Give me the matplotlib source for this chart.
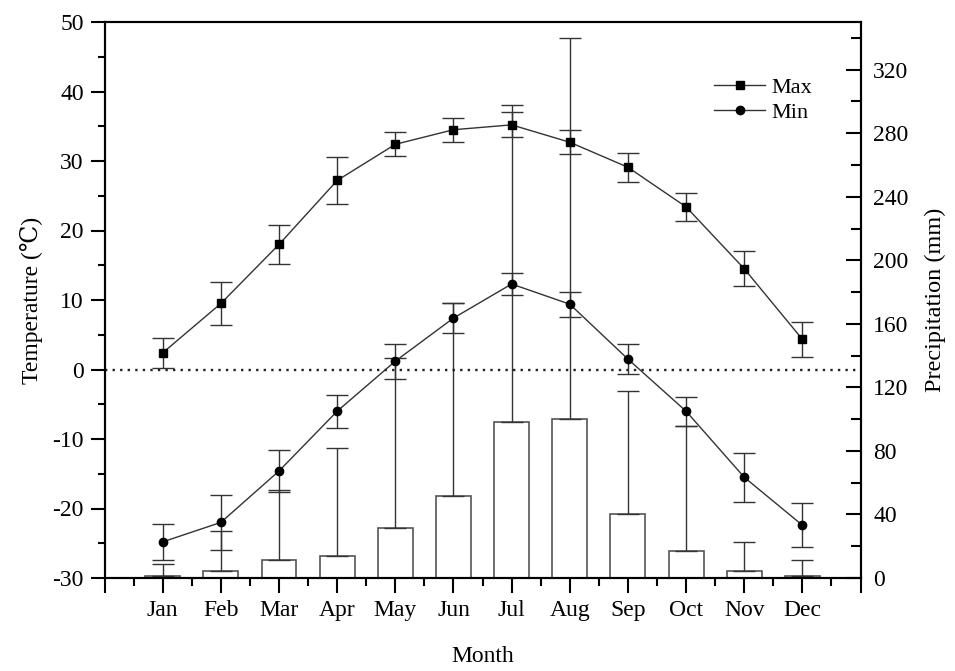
import matplotlib
matplotlib.use('Agg')
import matplotlib.pyplot as plt
import numpy as np
from matplotlib.ticker import MultipleLocator, FixedLocator
from matplotlib.lines import Line2D

months = ['Jan', 'Feb', 'Mar', 'Apr', 'May', 'Jun', 'Jul', 'Aug', 'Sep', 'Oct', 'Nov', 'Dec']
tmax = [2.4, 9.5, 18.0, 27.2, 32.4, 34.5, 35.2, 32.7, 29.1, 23.4, 14.5, 4.35]
tmax_err = [2.2, 3.1, 2.85, 3.35, 1.75, 1.7, 1.8, 1.7, 2.05, 2.05, 2.5, 2.5]
tmin = [-24.8, -22.0, -14.6, -6.0, 1.2, 7.4, 12.3, 9.4, 1.5, -6.0, -15.5, -22.4]
tmin_err = [2.55, 3.9, 3.0, 2.4, 2.5, 2.15, 1.6, 1.8, 2.2, 2.1, 3.55, 3.2]
precip = [1.3, 4.4, 11.1, 13.7, 31.5, 51.6, 98.4, 100.1, 40.1, 17.2, 4.4, 1.4]
precip_err = [7.3, 25.2, 44.3, 68.3, 107.2, 121.5, 199.5, 240.0, 77.6, 78.7, 18.1, 10.1]

plt.rcParams['font.family'] = ['Liberation Serif', 'DejaVu Serif']
plt.rcParams['axes.unicode_minus'] = False

fig = plt.figure(figsize=(9.55, 6.71), dpi=100)
ax1 = fig.add_axes([104.6 / 955, 1 - 578 / 671, (860.5 - 104.6) / 955, 556 / 671])
ax2 = ax1.twinx()

x = np.arange(1, 13)
ax2.bar(x, precip, width=0.6, color='white', edgecolor='#555555', linewidth=1.2, zorder=2)
ax2.errorbar(x, precip, yerr=[np.zeros(12), precip_err], fmt='none', ecolor='#333333',
             elinewidth=1, capsize=8, capthick=1, zorder=3)
ax2.set_ylim(0, 350)

ax1.set_zorder(ax2.get_zorder() + 1)
ax1.patch.set_visible(False)

ax1.axhline(0, ls=(0, (1, 2.2)), color='#222222', lw=1.7, zorder=1)
ax1.errorbar(x, tmax, yerr=tmax_err, fmt='-s', color='#333333', mfc='black', mec='black',
             ms=5.5, lw=1, elinewidth=1, capsize=8, capthick=1, zorder=4)
ax1.errorbar(x, tmin, yerr=tmin_err, fmt='-o', color='#333333', mfc='black', mec='black',
             ms=6, lw=1, elinewidth=1, capsize=8, capthick=1, zorder=4)

ax1.set_xlim(0, 13)
ax1.set_ylim(-30, 50)
ax1.yaxis.set_major_locator(MultipleLocator(10))
ax1.yaxis.set_minor_locator(MultipleLocator(5))
ax1.xaxis.set_major_locator(FixedLocator(np.arange(0, 14)))
ax1.xaxis.set_minor_locator(FixedLocator(np.arange(0.5, 13, 1)))
ax1.set_xticklabels([''] + months + [''])
ax2.yaxis.set_major_locator(MultipleLocator(40))
ax2.yaxis.set_minor_locator(MultipleLocator(20))

for ax in (ax1, ax2):
    for s in ax.spines.values():
        s.set_linewidth(1.5)

ax1.tick_params(axis='y', which='major', direction='out', length=10, width=1.5, labelsize=17, pad=5)
ax1.tick_params(axis='y', which='minor', direction='out', length=5, width=1.5)
ax1.tick_params(axis='x', which='major', direction='out', length=11, width=1.5, labelsize=17, pad=5)
ax1.tick_params(axis='x', which='minor', direction='out', length=6, width=1.5)
ax2.tick_params(axis='y', which='major', direction='in', length=11, width=1.5, labelsize=17, pad=9)
ax2.tick_params(axis='y', which='minor', direction='in', length=7, width=1.5)

ax1.set_xlabel('Month', fontsize=17, labelpad=18)
ax1.set_ylabel('Temperature (℃)', fontsize=17, labelpad=7)
ax2.set_ylabel('Precipitation (mm)', fontsize=17.5, labelpad=12)

handles = [Line2D([], [], color='#333333', lw=1, marker='s', ms=5.5, mfc='black', mec='black'),
           Line2D([], [], color='#333333', lw=1, marker='o', ms=6, mfc='black', mec='black')]
ax1.legend(handles, ['Max', 'Min'], loc='upper left', bbox_to_anchor=(714 / 955, 1 - 77 / 671),
           bbox_transform=fig.transFigure, frameon=False, fontsize=16, handlelength=2.3,
           handletextpad=0.3, labelspacing=0.22, borderpad=0, borderaxespad=0)

fig.savefig('out.png', dpi=100)
